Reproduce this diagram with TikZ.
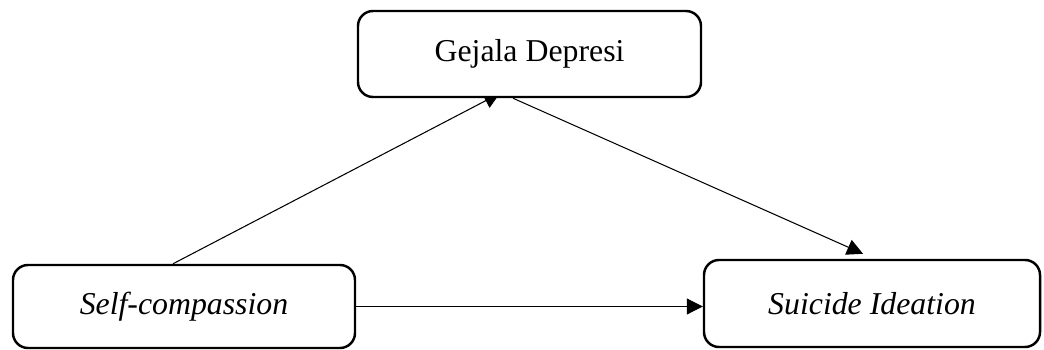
\documentclass[tikz,border=0pt]{standalone}
\usepackage{fontspec}
\setmainfont{Liberation Serif}
\usetikzlibrary{arrows.meta, backgrounds}

\begin{document}
\begin{tikzpicture}[
  >={Triangle[length=0.32cm, width=0.32cm]},
  varbox/.style={
    draw, rounded corners=0.3cm, line width=1.4pt, fill=white,
    inner sep=0pt, font=\fontsize{18.1}{21}\selectfont
  },
  path/.style={->, line width=0.6pt}
]
\useasboundingbox (0,0) rectangle (20.88,6.98);

%--- Explicit node placement ---
\node[varbox, minimum width=6.86cm, minimum height=1.72cm]
      (dep) at (10.59,5.90) {Gejala Depresi};
\node[varbox, minimum width=6.84cm, minimum height=1.66cm]
      (sc)  at (3.68, 0.85) {\itshape Self-compassion};
\node[varbox, minimum width=6.72cm, minimum height=1.74cm]
      (si)  at (17.44,0.91) {\itshape Suicide Ideation};

%--- Paths (behind the boxes, so the first tip tucks under) ---
\begin{scope}[on background layer]
  \draw[path] ([xshift=-0.22cm]sc.north)
           -- ([xshift=-0.59cm, yshift=0.10cm]dep.south);
  \draw[path] ([xshift=-0.33cm]dep.south)
           -- ([xshift=-0.18cm, yshift=0.10cm]si.north);
  \draw[path] (sc.east) -- (sc.east -| si.west);
\end{scope}

\end{tikzpicture}
\end{document}
